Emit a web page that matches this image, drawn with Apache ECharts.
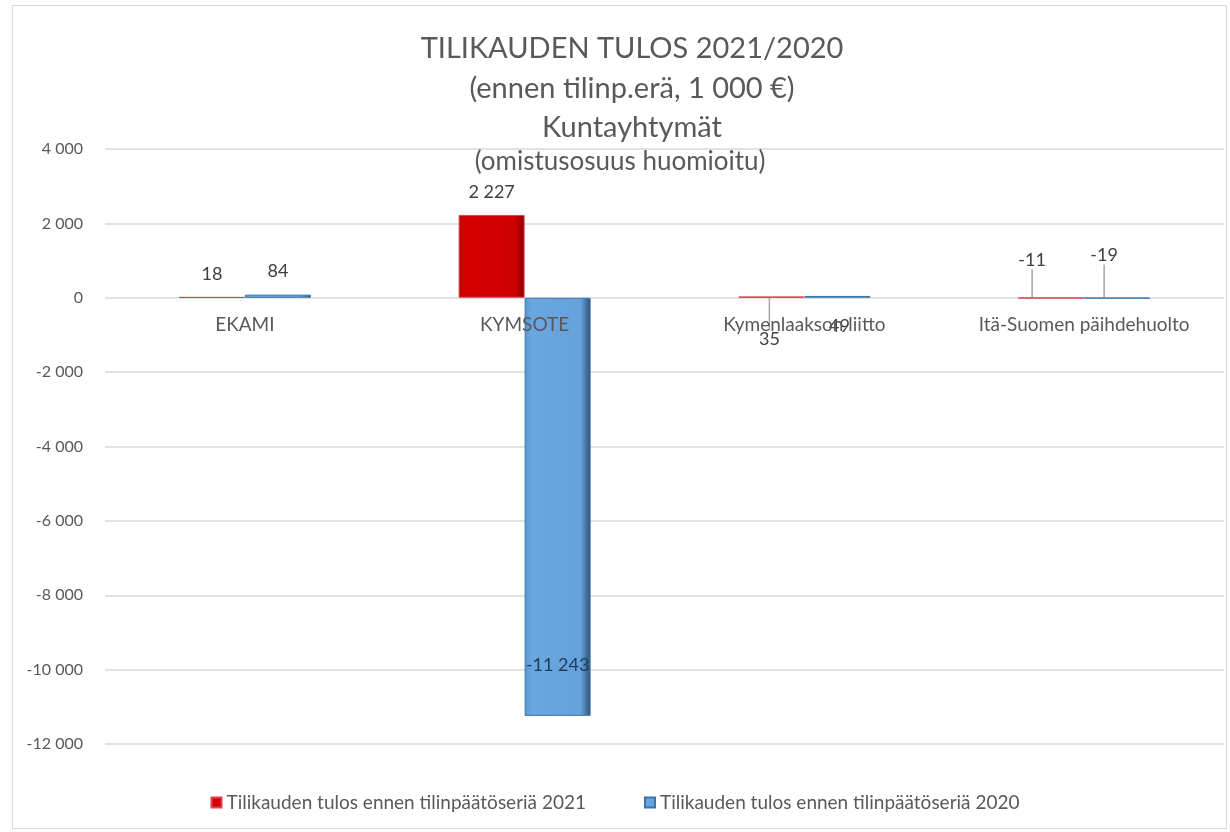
<!DOCTYPE html>
<html>
<head>
<meta charset="utf-8">
<script src="https://cdn.jsdelivr.net/npm/echarts@6/dist/echarts.min.js"></script>
<style>
  html, body { margin: 0; padding: 0; background: #fff; }
  #frame { position: absolute; left: 12px; top: 5px; width: 1215px; height: 824px; border: 1px solid #d9d9d9; box-sizing: border-box; }
  #chart { position: absolute; left: 0; top: 0; width: 1230px; height: 832px; }
</style>
</head>
<body>
<div id="frame"></div>
<div id="chart"></div>
<script>
// kuntayhtymät
const categories = ['EKAMI', 'KYMSOTE', 'Kymenlaakson liitto', 'Itä-Suomen päihdehuolto']
const tulos2021 = [18, 2227, 35, -11]
const tulos2020 = [84, -11243, 49, -19]
const seriesNames = ['Tilikauden tulos ennen tilinpäätöseriä 2021', 'Tilikauden tulos ennen tilinpäätöseriä 2020']
const yTicks = { min: -12000, max: 4000, interval: 2000 }

// tuhaterotin välilyönnillä
function fmt(v) {
  const s = String(Math.abs(v)).replace(/\B(?=(\d{3})+(?!\d))/g, ' ')
  return (v < 0 ? '-' : '') + s
}

// siirretyt arvot (pienet palkit)
const labelShift = {
  '0-2': [-2, 66], '1-2': [2, 53],
  '0-3': [-19, -14], '1-3': [-13, -19]
}
const withLine = ['0-2', '0-3', '1-3']

const chart = echarts.init(document.getElementById('chart'))
const textColor = '#595959'
const font = 'Lato, "Noto Sans", sans-serif'

function toData(arr, s) {
  return arr.map((v, i) => {
    const item = { value: v }
    if (withLine.indexOf(s + '-' + i) >= 0) item.labelLine = { show: true }
    if (v < -1000) item.label = { position: 'insideBottom', distance: 42, color: '#1f3b57' }
    return item
  })
}

const option = {
  animation: false,
  textStyle: { fontFamily: font },
  title: [
    {
      text: 'TILIKAUDEN TULOS 2021/2020\n(ennen tilinp.erä, 1 000 €)\nKuntayhtymät',
      left: 627, top: 24, textAlign: 'center',
      textStyle: { fontSize: 29, fontWeight: 'normal', color: textColor, lineHeight: 39.5, fontFamily: font }
    },
    {
      text: '(omistusosuus huomioitu)',
      left: 615, top: 143, textAlign: 'center',
      textStyle: { fontSize: 26, fontWeight: 'normal', color: textColor, lineHeight: 28, fontFamily: font }
    }
  ],
  legend: {
    bottom: 15,
    left: 'center',
    itemWidth: 10,
    itemHeight: 10,
    itemGap: 58,
    icon: 'rect',
    textStyle: { fontSize: 19, color: textColor, fontFamily: font },
    data: seriesNames
  },
  grid: { left: 105, right: 6, top: 149, bottom: 88 },
  xAxis: {
    type: 'category',
    data: categories,
    z: 10,
    axisLine: { show: false, onZero: false },
    axisTick: { show: false },
    axisLabel: { fontSize: 19, color: textColor, margin: 18, interval: 0, fontFamily: font }
  },
  yAxis: {
    type: 'value',
    min: yTicks.min, max: yTicks.max, interval: yTicks.interval,
    axisLine: { show: false },
    axisTick: { show: false },
    axisLabel: { fontSize: 16, color: textColor, margin: 22, formatter: fmt, fontFamily: font },
    splitLine: { lineStyle: { color: '#d9d9d9', width: 1.5 } }
  },
  labelLayout: function (p) {
    const s = labelShift[p.seriesIndex + '-' + p.dataIndex]
    if (!s) return {}
    return { dx: s[0], dy: s[1] }
  },
  series: [
    {
      name: seriesNames[0],
      type: 'bar',
      data: toData(tulos2021, 0),
      barWidth: 66,
      barGap: '0%',
      itemStyle: {
        color: new echarts.graphic.LinearGradient(0, 0, 1, 0, [
          { offset: 0, color: '#c00000' },
          { offset: 0.1, color: '#d60000' },
          { offset: 0.85, color: '#d00000' },
          { offset: 1, color: '#8a0000' }
        ]),
        borderColor: '#e04050', borderWidth: 1
      },
      label: { show: true, position: 'top', distance: 14, fontSize: 18, color: '#404040', formatter: p => fmt(p.value) },
      labelLine: { show: false, lineStyle: { color: '#a6a6a6', width: 1.5 } }
    },
    {
      name: seriesNames[1],
      type: 'bar',
      data: toData(tulos2020, 1),
      barWidth: 66,
      itemStyle: {
        color: new echarts.graphic.LinearGradient(0, 0, 1, 0, [
          { offset: 0, color: '#5a97d0' },
          { offset: 0.1, color: '#6aa6e0' },
          { offset: 0.85, color: '#65a2dc' },
          { offset: 1, color: '#2c4f72' }
        ]),
        borderColor: '#3e74a8', borderWidth: 1
      },
      label: {
        show: true, position: 'top', distance: 14, fontSize: 18, color: '#404040',
        formatter: p => fmt(p.value)
      },
      labelLine: { show: false, lineStyle: { color: '#a6a6a6', width: 1.5 } }
    }
  ]
}

chart.setOption(option)

// kategorianimet nollaviivan alle
const zeroY = chart.convertToPixel({ yAxisIndex: 0 }, 0)
const baseY = chart.convertToPixel({ yAxisIndex: 0 }, yTicks.min)
chart.setOption({ xAxis: { offset: zeroY - baseY } })
</script>
</body>
</html>
